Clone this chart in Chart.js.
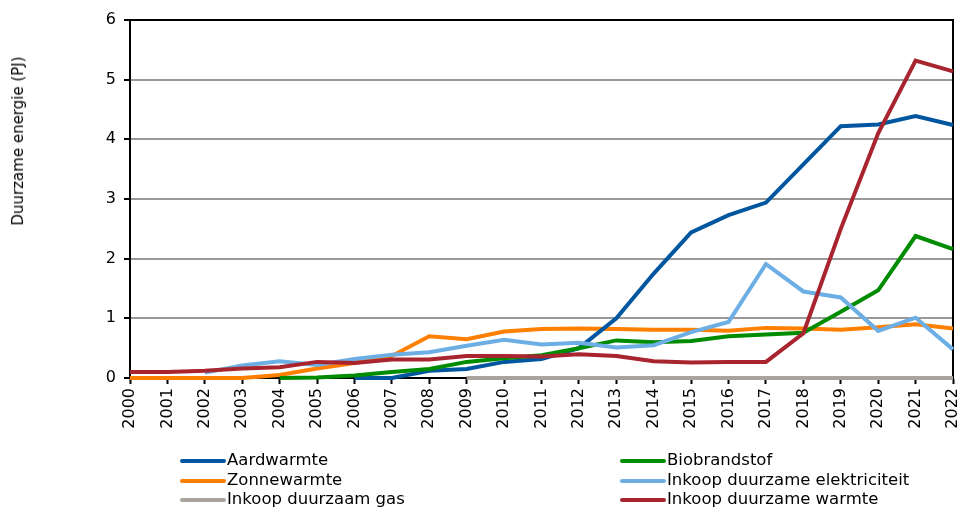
<!DOCTYPE html>
<html>
<head>
<meta charset="utf-8">
<script src="https://cdn.jsdelivr.net/npm/chart.js@4.4.0/dist/chart.umd.min.js"></script>
<style>
  html, body { margin: 0; padding: 0; background: #fff; }
  #wrap { position: relative; width: 962px; height: 508px; overflow: hidden; font-family: "DejaVu Sans", Verdana, sans-serif; color: #000; }
  #c { position: absolute; left: 0; top: 0; }
  #ytitle { position: absolute; left: 18px; top: 141px; transform: translate(-50%, -50%) rotate(-90deg); white-space: nowrap; font-size: 15px; }
  .lg { position: absolute; font-size: 16.5px; white-space: nowrap; line-height: 20px; height: 20px; }
  .lg .sw { position: absolute; left: 0; top: 9px; width: 46px; height: 4px; border-radius: 2px; }
  .lg .tx { position: absolute; left: 47px; top: 0; }
</style>
</head>
<body>
<div id="wrap">
  <canvas id="c" width="962" height="508"></canvas>
  <div id="ytitle">Duurzame energie (PJ)</div>
  <div id="legend"></div>
</div>
<script>
const years = ["2000","2001","2002","2003","2004","2005","2006","2007","2008","2009","2010","2011","2012","2013","2014","2015","2016","2017","2018","2019","2020","2021","2022"];
const yTicks = [0, 1, 2, 3, 4, 5, 6];

const aardwarmte   = [null, null, null, null, null, null, 0, 0, 0.12, 0.15, 0.27, 0.32, 0.5, 1.0, 1.75, 2.44, 2.73, 2.94, 3.58, 4.22, 4.25, 4.39, 4.24];
const zonnewarmte  = [0, 0, 0, 0, 0.05, 0.16, 0.25, 0.37, 0.70, 0.65, 0.78, 0.82, 0.83, 0.82, 0.81, 0.81, 0.79, 0.84, 0.83, 0.81, 0.85, 0.90, 0.83];
const gas          = [null, null, null, null, null, null, null, null, null, 0, 0, 0, 0, 0, 0, 0, 0, 0, 0, 0, 0, 0, 0];
const biobrandstof = [null, null, null, null, 0, 0.01, 0.04, 0.10, 0.15, 0.27, 0.33, 0.38, 0.5, 0.63, 0.6, 0.62, 0.7, 0.73, 0.76, 1.11, 1.47, 2.38, 2.16];
const elektriciteit= [null, null, 0.09, 0.21, 0.28, 0.22, 0.32, 0.39, 0.43, 0.54, 0.64, 0.56, 0.59, 0.51, 0.55, 0.77, 0.94, 1.91, 1.45, 1.35, 0.79, 1.01, 0.48];
const warmte       = [0.10, 0.10, 0.12, 0.16, 0.18, 0.27, 0.25, 0.31, 0.31, 0.37, 0.37, 0.36, 0.40, 0.37, 0.28, 0.26, 0.27, 0.27, 0.75, 2.5, 4.1, 5.32, 5.14];

const series = [
  { label: "Aardwarmte", data: aardwarmte, color: "#0057A0", order: 5, col: 0, row: 0 },
  { label: "Biobrandstof", data: biobrandstof, color: "#008C00", order: 3, col: 1, row: 0 },
  { label: "Zonnewarmte", data: zonnewarmte, color: "#FF8000", order: 6, col: 0, row: 1 },
  { label: "Inkoop duurzame elektriciteit", data: elektriciteit, color: "#6DAFE5", order: 2, col: 1, row: 1 },
  { label: "Inkoop duurzaam gas", data: gas, color: "#A9A39B", order: 4, col: 0, row: 2 },
  { label: "Inkoop duurzame warmte", data: warmte, color: "#A8252F", order: 1, col: 1, row: 2 }
];

// HTML legend
const lg = document.getElementById('legend');
const colX = [180, 620];
const rowY = [450, 470, 489];
series.forEach(s => {
  const d = document.createElement('div');
  d.className = 'lg';
  d.style.left = colX[s.col] + 'px';
  d.style.top = rowY[s.row] + 'px';
  d.innerHTML = '<span class="sw" style="background:' + s.color + '"></span><span class="tx">' + s.label + '</span>';
  lg.appendChild(d);
});

const frame = {
  id: 'frame',
  beforeDatasetsDraw(chart) {
    const a = chart.chartArea, ctx = chart.ctx;
    ctx.save();
    ctx.strokeStyle = '#000';
    ctx.lineWidth = 2;
    ctx.strokeRect(a.left, a.top, a.right - a.left, a.bottom - a.top);
    ctx.restore();
  }
};

new Chart(document.getElementById('c'), {
  type: 'line',
  data: {
    labels: years,
    datasets: series.map(s => ({
      label: s.label,
      data: s.data,
      borderColor: s.color,
      backgroundColor: s.color,
      borderWidth: 4,
      pointRadius: 0,
      pointHoverRadius: 0,
      tension: 0,
      fill: false,
      order: s.order,
      clip: 6,
      spanGaps: false
    }))
  },
  options: {
    responsive: false,
    animation: false,
    events: [],
    layout: { padding: { left: 0, right: 9, top: 20, bottom: 0 } },
    plugins: { legend: { display: false }, tooltip: { enabled: false } },
    scales: {
      x: {
        type: 'category',
        offset: false,
        afterFit(scale) { scale.height = 130; scale.paddingLeft = 0; scale.paddingRight = 0; },
        grid: { drawOnChartArea: false, drawTicks: true, tickLength: 6, tickColor: '#000', tickWidth: 2 },
        border: { display: true, color: '#000', width: 2 },
        ticks: { autoSkip: false, maxRotation: 90, minRotation: 90, padding: 4, color: '#000', font: { family: 'DejaVu Sans', size: 16 } }
      },
      y: {
        min: 0, max: 6,
        afterFit(scale) { scale.width = 130; scale.paddingTop = 0; scale.paddingBottom = 0; },
        afterBuildTicks(scale) { scale.ticks = yTicks.map(v => ({ value: v })); },
        grid: {
          color: ctx => (ctx.tick && (ctx.tick.value === 0 || ctx.tick.value === 6)) ? 'rgba(0,0,0,0)' : '#999999',
          lineWidth: 2,
          drawTicks: true, tickLength: 6, tickColor: '#000', tickWidth: 2
        },
        border: { display: true, color: '#000', width: 2 },
        ticks: { padding: 8, color: '#000', font: { family: 'DejaVu Sans', size: 16 } }
      }
    }
  },
  plugins: [frame]
});
</script>
</body>
</html>
